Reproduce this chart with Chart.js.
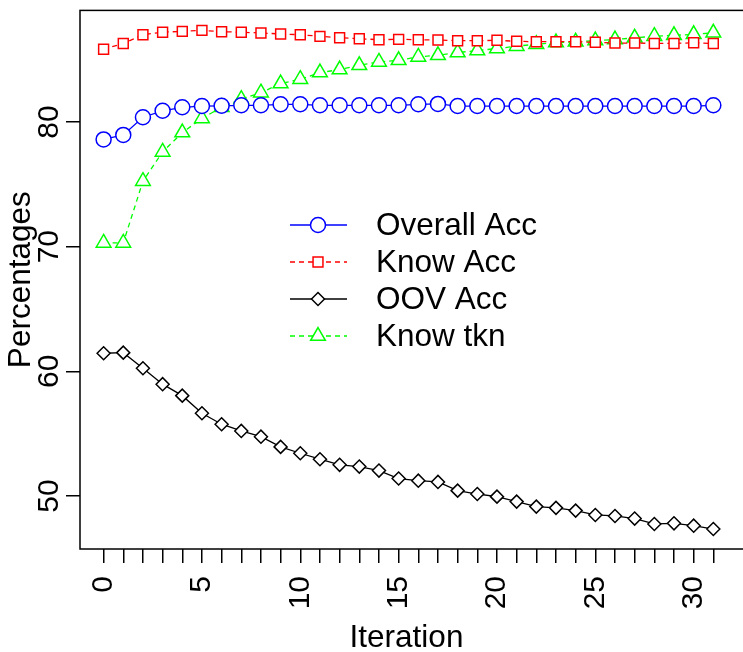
<!DOCTYPE html>
<html>
<head>
<meta charset="utf-8">
<script src="https://cdn.jsdelivr.net/npm/chart.js@4.4.1/dist/chart.umd.min.js"></script>
<style>
  html, body { margin: 0; padding: 0; background: #fff; }
</style>
</head>
<body>
<canvas id="plot" width="743" height="652"></canvas>
<script>
const iterations = [0, 1, 2, 3, 4, 5, 6, 7, 8, 9, 10, 11, 12, 13, 14, 15,
  16, 17, 18, 19, 20, 21, 22, 23, 24, 25, 26, 27, 28, 29, 30, 31];

const overallAcc = [78.6, 78.96, 80.38, 80.9, 81.18, 81.28, 81.3, 81.34, 81.34, 81.42, 81.42,
  81.34, 81.34, 81.34, 81.34, 81.34, 81.42, 81.45, 81.28, 81.28, 81.28, 81.28, 81.28, 81.28,
  81.28, 81.28, 81.28, 81.28, 81.28, 81.28, 81.28, 81.34];

const knowAcc = [85.83, 86.3, 87.0, 87.2, 87.27, 87.35, 87.24, 87.2, 87.14, 87.06, 87.0,
  86.87, 86.76, 86.68, 86.6, 86.63, 86.6, 86.58, 86.52, 86.52, 86.55, 86.47, 86.44, 86.44,
  86.44, 86.39, 86.33, 86.33, 86.3, 86.3, 86.35, 86.3];

const oovAcc = [61.45, 61.5, 60.25, 58.97, 58.05, 56.64, 55.76, 55.22, 54.76, 53.94, 53.43,
  52.95, 52.5, 52.36, 52.04, 51.4, 51.23, 51.13, 50.43, 50.16, 49.95, 49.55, 49.15, 49.05,
  48.83, 48.48, 48.4, 48.19, 47.76, 47.81, 47.62, 47.35];

const knowTkn = [70.3, 70.3, 75.25, 77.6, 79.15, 80.28, 81.19, 81.83, 82.35, 83.08, 83.43,
  83.96, 84.2, 84.55, 84.82, 84.95, 85.22, 85.35, 85.57, 85.73, 85.89, 86.08, 86.24, 86.37,
  86.43, 86.53, 86.61, 86.75, 86.88, 86.95, 87.03, 87.15];

const yTicks = [50, 60, 70, 80];
const seriesNames = ['Overall Acc', 'Know Acc', 'OOV Acc', 'Know tkn'];

const FONT = "'Liberation Sans', Arial, Helvetica, sans-serif";

// box round the plot region, open on the right like the original
const frame = {
  id: 'frame',
  beforeDatasetsDraw(chart) {
    const { ctx, chartArea: a } = chart;
    ctx.save();
    ctx.strokeStyle = '#000';
    ctx.lineWidth = 1.5;
    ctx.strokeRect(a.left, a.top, a.right - a.left + 20, a.bottom - a.top);
    ctx.restore();
  }
};

// legend sitting inside the plot
const innerLegend = {
  id: 'innerLegend',
  afterDraw(chart) {
    const ctx = chart.ctx;
    ctx.save();
    chart.data.datasets.forEach((ds, i) => {
      const y = 225 + i * 37;
      ctx.strokeStyle = ds.borderColor;
      ctx.lineWidth = ds.borderWidth;
      ctx.setLineDash(ds.borderDash || []);
      ctx.beginPath();
      ctx.moveTo(290, y);
      ctx.lineTo(347, y);
      ctx.stroke();
      ctx.setLineDash([]);
      ctx.fillStyle = '#fff';
      ctx.strokeStyle = ds.borderColor;
      ctx.lineWidth = ds.pointBorderWidth;
      Chart.helpers.drawPoint(ctx, {
        pointStyle: ds.pointStyle,
        radius: ds.pointRadius,
        borderWidth: ds.pointBorderWidth,
        rotation: 0
      }, 318, y);
      ctx.fillStyle = '#000';
      ctx.font = '31.5px ' + FONT;
      ctx.textBaseline = 'middle';
      ctx.textAlign = 'left';
      ctx.fillText(ds.label, 376, y + 1);
    });
    ctx.restore();
  }
};

function series(label, values, color, style, radius, dash) {
  return {
    label: label,
    data: iterations.map((x, i) => ({ x: x, y: values[i] })),
    borderColor: color,
    borderWidth: 1.3,
    borderDash: dash,
    pointStyle: style,
    pointRadius: radius,
    pointBorderWidth: 1.5,
    pointBorderColor: color,
    pointBackgroundColor: '#fff',
    tension: 0,
    fill: false
  };
}

new Chart(document.getElementById('plot'), {
  type: 'line',
  data: {
    datasets: [
      series(seriesNames[0], overallAcc, '#0000ff', 'circle', 7.5, []),
      series(seriesNames[1], knowAcc, '#ff0000', 'rect', 7, [5, 4]),
      series(seriesNames[2], oovAcc, '#000000', 'rectRot', 6.5, []),
      series(seriesNames[3], knowTkn, '#00ff00', 'triangle', 8.5, [5, 4])
    ]
  },
  options: {
    responsive: false,
    animation: false,
    devicePixelRatio: 1,
    layout: { padding: { top: 10.4, right: 0, bottom: 0, left: 0 } },
    plugins: {
      legend: { display: false },
      tooltip: { enabled: false }
    },
    scales: {
      x: {
        type: 'linear',
        min: -1.2,
        max: 32.0,
        afterBuildTicks: s => { s.ticks = iterations.map(v => ({ value: v })); },
        afterFit: s => {
          s.height = 103;
          s.paddingLeft = 0;
          s.paddingRight = 0;
        },
        border: { display: false },
        grid: { drawOnChartArea: false, tickLength: 14, color: '#000', lineWidth: 1.5 },
        ticks: {
          autoSkip: false,
          minRotation: 90,
          maxRotation: 90,
          padding: 13,
          color: '#000',
          font: { family: FONT, size: 30 },
          callback: v => (v % 5 === 0 ? String(v) : '')
        },
        title: {
          display: true,
          text: 'Iteration',
          color: '#000',
          font: { family: FONT, size: 31.5, lineHeight: 1 },
          padding: { top: 0, bottom: -2 }
        }
      },
      y: {
        type: 'linear',
        min: 45.75,
        max: 88.95,
        afterBuildTicks: s => { s.ticks = yTicks.map(v => ({ value: v })); },
        afterFit: s => {
          s.width = 80;
          s.paddingTop = 0;
          s.paddingBottom = 0;
        },
        border: { display: false },
        grid: { drawOnChartArea: false, tickLength: 14, color: '#000', lineWidth: 1.5 },
        ticks: {
          minRotation: 90,
          maxRotation: 90,
          crossAlign: 'center',
          padding: 0,
          color: '#000',
          font: { family: FONT, size: 30 }
        },
        title: {
          display: true,
          text: 'Percentages',
          color: '#000',
          font: { family: FONT, size: 31.5, lineHeight: 1 },
          padding: { top: 6, bottom: 0 }
        }
      }
    }
  },
  plugins: [frame, innerLegend]
});
</script>
</body>
</html>
